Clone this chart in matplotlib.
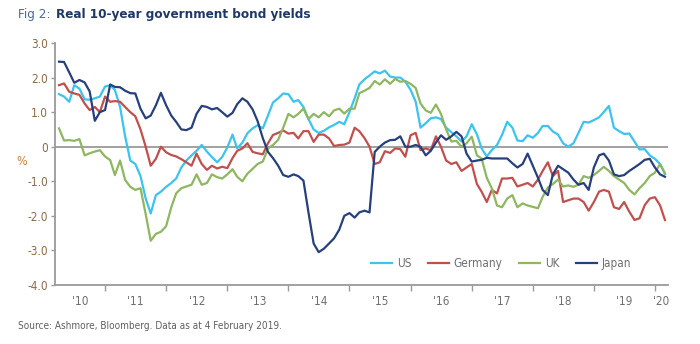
import matplotlib
matplotlib.use("Agg")
import matplotlib.pyplot as plt
from matplotlib import font_manager as fm
import pandas as pd

# pick a narrow face if one is installed
narrow = [f for f in fm.fontManager.ttflist
          if "Narrow" in f.name or "ondensed" in f.fname or "Narrow" in f.fname]
if narrow:
    plt.rcParams["font.family"] = [narrow[0].name, "DejaVu Sans"]
    if "ondensed" in narrow[0].fname:
        plt.rcParams["font.stretch"] = "condensed"
else:
    plt.rcParams["font.family"] = ["DejaVu Sans"]

# monthly observations, Apr 2010 - Mar 2020
dates = pd.date_range("2010-04-01", periods=120, freq="MS")

us = [
    1.52, 1.45, 1.30, 1.78, 1.68, 1.37, 1.36, 1.40, 1.45, 1.74,
    1.78, 1.64, 1.15, 0.30, -0.40, -0.50, -0.85, -1.50, -1.93, -1.40,
    -1.30, -1.16, -1.05, -0.92, -0.60, -0.40, -0.25, -0.12, 0.05, -0.14,
    -0.30, -0.45, -0.30, -0.02, 0.35, -0.05, 0.12, 0.39, 0.53, 0.62,
    0.53, 0.90, 1.28, 1.40, 1.54, 1.52, 1.30, 1.35, 1.15, 0.80,
    0.50, 0.40, 0.46, 0.56, 0.63, 0.72, 0.65, 1.00, 1.40, 1.80,
    1.95, 2.06, 2.18, 2.12, 2.20, 2.03, 2.00, 2.00, 1.88, 1.65,
    1.30, 0.55, 0.68, 0.82, 0.85, 0.80, 0.55, 0.42, 0.30, 0.15,
    0.30, 0.65, 0.36, -0.05, -0.28, -0.10, 0.05, 0.34, 0.72, 0.55,
    0.18, 0.16, 0.33, 0.26, 0.40, 0.60, 0.60, 0.44, 0.35, 0.10,
    0.00, 0.10, 0.40, 0.72, 0.70, 0.77, 0.85, 1.00, 1.18, 0.55,
    0.45, 0.37, 0.38, 0.15, -0.08, -0.07, -0.25, -0.35, -0.50, -0.79,
]

germany = [
    1.78, 1.83, 1.59, 1.54, 1.50, 1.25, 1.06, 1.15, 1.00, 1.45,
    1.30, 1.32, 1.30, 1.15, 1.00, 0.88, 0.50, 0.00, -0.55, -0.35,
    0.00, -0.16, -0.24, -0.28, -0.36, -0.45, -0.55, -0.20, -0.50, -0.67,
    -0.55, -0.63, -0.58, -0.62, -0.33, -0.12, -0.05, 0.10, -0.15, -0.19,
    -0.22, 0.10, 0.34, 0.40, 0.47, 0.38, 0.40, 0.24, 0.45, 0.45,
    0.14, 0.35, 0.35, 0.24, 0.02, 0.05, 0.06, 0.12, 0.55, 0.45,
    0.25, 0.00, -0.50, -0.45, -0.13, -0.18, -0.05, -0.07, -0.29, 0.33,
    0.40, -0.10, -0.05, -0.10, 0.30, 0.00, -0.40, -0.50, -0.45, -0.70,
    -0.60, -0.50, -1.08, -1.30, -1.60, -1.25, -1.35, -0.92, -0.92, -0.90,
    -1.15, -1.10, -1.05, -1.15, -0.95, -0.70, -0.45, -0.85, -0.70, -1.60,
    -1.55, -1.50, -1.50, -1.60, -1.85, -1.60, -1.30, -1.25, -1.30, -1.75,
    -1.80, -1.60, -1.88, -2.12, -2.07, -1.69, -1.50, -1.46, -1.70, -2.12,
]

uk = [
    0.53, 0.18, 0.19, 0.17, 0.22, -0.25, -0.19, -0.14, -0.10, -0.28,
    -0.39, -0.82, -0.40, -0.96, -1.16, -1.25, -1.20, -1.95, -2.72, -2.52,
    -2.46, -2.30, -1.75, -1.35, -1.20, -1.15, -1.10, -0.80, -1.10, -1.05,
    -0.80, -0.88, -0.92, -0.80, -0.65, -0.87, -1.00, -0.78, -0.64, -0.50,
    -0.43, -0.05, 0.05, 0.20, 0.55, 0.95, 0.85, 0.95, 1.10, 0.80,
    0.95, 0.85, 1.00, 0.88, 1.05, 1.10, 0.96, 1.10, 1.10, 1.55,
    1.62, 1.70, 1.90, 1.80, 1.95, 1.82, 1.96, 1.88, 1.90, 1.82,
    1.70, 1.25, 1.05, 0.98, 1.22, 0.95, 0.50, 0.15, 0.17, 0.00,
    0.10, 0.29, -0.25, -0.34, -0.90, -1.20, -1.70, -1.75, -1.50, -1.40,
    -1.75, -1.64, -1.70, -1.74, -1.78, -1.45, -1.18, -1.08, -0.95, -1.15,
    -1.12, -1.16, -1.10, -0.85, -0.90, -0.82, -0.70, -0.58, -0.70, -0.85,
    -0.95, -1.05, -1.25, -1.38, -1.20, -1.05, -0.85, -0.75, -0.50, -0.77,
]

japan = [
    2.46, 2.45, 2.15, 1.85, 1.93, 1.86, 1.60, 0.75, 1.00, 1.06,
    1.80, 1.73, 1.72, 1.62, 1.55, 1.54, 1.10, 0.82, 0.90, 1.20,
    1.56, 1.20, 0.90, 0.72, 0.50, 0.48, 0.55, 0.95, 1.18, 1.15,
    1.08, 1.12, 1.00, 0.87, 0.98, 1.23, 1.40, 1.30, 1.08, 0.74,
    0.25, -0.15, -0.33, -0.55, -0.82, -0.87, -0.80, -0.85, -0.98, -1.90,
    -2.80, -3.05, -2.95, -2.80, -2.65, -2.40, -2.00, -1.92, -2.05, -1.90,
    -1.85, -1.90, -0.15, 0.00, 0.12, 0.19, 0.20, 0.30, 0.00, 0.00,
    0.05, 0.00, -0.25, -0.12, 0.12, 0.33, 0.20, 0.30, 0.43, 0.30,
    -0.20, -0.43, -0.40, -0.38, -0.32, -0.34, -0.34, -0.34, -0.34, -0.48,
    -0.60, -0.50, -0.20, -0.55, -0.90, -1.25, -1.40, -0.80, -0.55, -0.65,
    -0.75, -0.95, -1.10, -1.05, -1.25, -0.60, -0.25, -0.20, -0.40, -0.80,
    -0.85, -0.82, -0.70, -0.60, -0.50, -0.38, -0.35, -0.60, -0.80, -0.87,
]

series = [
    ("US", us, "#3cc3ee"),
    ("Germany", germany, "#c0504d"),
    ("UK", uk, "#8fb661"),
    ("Japan", japan, "#27407c"),
]

year_ticks = pd.to_datetime([f"{y}-01-01" for y in range(2011, 2021)])
year_labels = ["'10", "'11", "'12", "'13", "'14", "'15", "'16", "'17", "'18", "'19", "'20"]
x_start = pd.Timestamp("2010-03-08")
x_end = pd.Timestamp("2020-03-18")

fig = plt.figure(figsize=(7, 3.44), dpi=100)
ax = fig.add_axes([0.0786, 0.1715, 0.8754, 0.7035])

ax.axhline(0, color="#9a9a9a", lw=1.3, zorder=1)
for name, vals, col in series:
    ax.plot(dates, vals, color=col, lw=1.6, label=name, zorder=3)

ax.set_ylim(-4, 3)
ax.set_yticks(range(-4, 4))
ax.set_yticklabels(["-4.0", "-3.0", "-2.0", "-1.0", "0", "1.0", "2.0", "3.0"])
ax.set_xlim(x_start, x_end)

ax.set_xticks(year_ticks)
ax.set_xticklabels([])
bounds = [x_start] + list(year_ticks) + [x_end]
mids = [bounds[i] + (bounds[i + 1] - bounds[i]) / 2 for i in range(len(bounds) - 1)]
ax.set_xticks(mids, minor=True)
ax.set_xticklabels(year_labels, minor=True)
ax.tick_params(axis="x", which="minor", length=0, pad=7, labelsize=8.5, labelcolor="#6f6f6f")
ax.tick_params(axis="x", which="major", length=4, width=1, color="#9a9a9a", direction="out")
ax.tick_params(axis="y", length=3, width=1, color="#9a9a9a", labelsize=8.5,
               labelcolor="#8b6a48", pad=2)

for s in ["top", "right"]:
    ax.spines[s].set_visible(False)
for s in ["left", "bottom"]:
    ax.spines[s].set_color("#9a9a9a")
    ax.spines[s].set_linewidth(1.3)

fig.text(22 / 700, 1 - 162 / 344, "%", color="#c9803a", fontsize=9, va="center", ha="center")

leg = ax.legend(loc="center", bbox_to_anchor=(0.728, 0.09), ncol=4, frameon=False,
                fontsize=8.5, handlelength=1.8, handletextpad=0.4, columnspacing=1.4)
for t in leg.get_texts():
    t.set_color("#6f6f6f")

t1 = fig.text(18 / 700, 1 - 18 / 344, "Fig 2: ", color="#4a6b96", fontsize=9.6, va="baseline")
fig.canvas.draw()
bb = t1.get_window_extent()
fig.text(bb.x1 / 700 + 0.002, 1 - 18 / 344, "Real 10-year government bond yields",
         color="#1f3864", fontsize=9.6, fontweight="bold", va="baseline")

fig.text(18 / 700, 1 - 329 / 344, "Source: Ashmore, Bloomberg. Data as at 4 February 2019.",
         color="#5f5f5f", fontsize=7.2, va="baseline")

fig.savefig("out.png", dpi=100)
